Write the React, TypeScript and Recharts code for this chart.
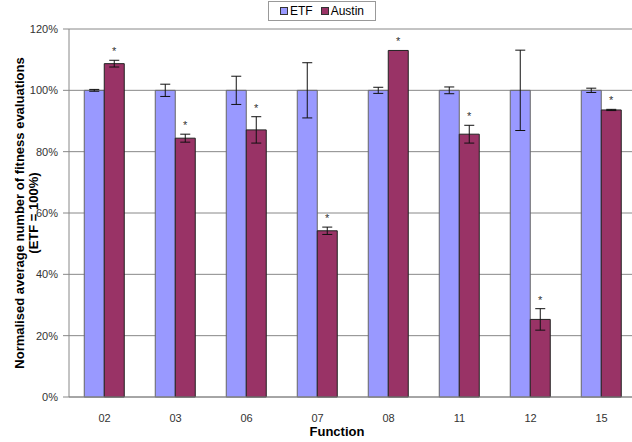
import React from 'react';
import { BarChart, Bar, XAxis, YAxis, CartesianGrid, ErrorBar, LabelList, Legend, Label } from 'recharts';

const categories = ['02', '03', '06', '07', '08', '11', '12', '15'];
const etfValues = [100, 100, 100, 100, 100, 100, 100, 100];
const etfErrors = [0.3, 2, 4.6, 9, 1, 1.1, 13.1, 0.7];
const austinValues = [108.7, 84.4, 87.1, 54.2, 113.0, 85.7, 25.3, 93.6];
const austinErrors = [1.1, 1.3, 4.3, 1.2, 0, 2.9, 3.5, 0.2];
const yTicks = [0, 20, 40, 60, 80, 100, 120];
const edgeTicks = [0, 1, 2, 3, 4, 5, 6, 7, 8];

const data = categories.map((c, i) => ({
  name: c,
  etf: etfValues[i],
  etfErr: etfErrors[i],
  austin: austinValues[i],
  austinErr: austinErrors[i],
}));

const ETF_COLOR = '#9999FF';
const AUSTIN_COLOR = '#993366';
const FONT = '"Liberation Sans", Arial, sans-serif';

const StarLabel = (props: any) => {
  const { x, y, width, height, value, index } = props;
  const v = austinValues[index];
  const pxPerUnit = v ? Number(height) / v : 0;
  const top = Number(y) - Number(value) * pxPerUnit;
  return (
    <text x={Number(x) + Number(width) / 2} y={top - 5} textAnchor="middle" fontSize={11} fill="#333">
      *
    </text>
  );
};

const LegendBox = () => (
  <div
    style={{
      width: 108,
      height: 20,
      border: '1px solid #999',
      background: '#fff',
      boxSizing: 'border-box',
      display: 'flex',
      alignItems: 'center',
      justifyContent: 'center',
      fontSize: 12,
      fontFamily: FONT,
      color: '#000',
    }}
  >
    <span style={{ display: 'inline-block', width: 6, height: 6, background: ETF_COLOR, border: '1px solid #333', marginRight: 2 }} />
    <span style={{ marginRight: 8 }}>ETF</span>
    <span style={{ display: 'inline-block', width: 6, height: 6, background: AUSTIN_COLOR, border: '1px solid #333', marginRight: 2 }} />
    <span>Austin</span>
  </div>
);

const YTitle = (props: any) => {
  const vb = props.viewBox || {};
  const cy = Number(vb.y) + Number(vb.height) / 2;
  return (
    <g>
      <text x={19} y={cy} transform={`rotate(-90 19 ${cy})`} textAnchor="middle" dominantBaseline="central" fontSize={13} fontWeight="bold" fill="#000">
        Normalised average number of fitness evaluations
      </text>
      <text x={33} y={cy} transform={`rotate(-90 33 ${cy})`} textAnchor="middle" dominantBaseline="central" fontSize={13} fontWeight="bold" fill="#000">
        (ETF = 100%)
      </text>
    </g>
  );
};

const XTitle = (props: any) => {
  const vb = props.viewBox || {};
  const cx = Number(vb.x) + Number(vb.width) / 2 - 16;
  return (
    <text x={cx} y={436} textAnchor="middle" fontSize={13} fontWeight="bold" fill="#000">
      Function
    </text>
  );
};

export default function App() {
  return (
    <div style={{ position: 'absolute', left: 0, top: 0, width: 632, height: 442, overflow: 'hidden', background: '#fff', fontFamily: FONT }}>
      <BarChart
        width={640}
        height={442}
        data={data}
        margin={{ top: 29, right: 3, bottom: 0, left: 0 }}
        barCategoryGap="21.5%"
        barGap={0}
      >
        <CartesianGrid vertical={false} stroke="#888" />
        <XAxis
          xAxisId="edges"
          type="number"
          domain={[0, 8]}
          ticks={edgeTicks}
          tick={false}
          tickLine={{ stroke: '#888' }}
          tickSize={5}
          axisLine={false}
          height={0}
        />
        <XAxis
          dataKey="name"
          tickLine={false}
          axisLine={{ stroke: '#888' }}
          tick={{ fontSize: 11, fill: '#333' }}
          tickSize={6}
          tickMargin={11}
          height={45}
        >
          <Label content={XTitle} />
        </XAxis>
        <YAxis
          width={69}
          domain={[0, 120]}
          ticks={yTicks}
          tickFormatter={(v: number) => `${v}%`}
          tickSize={6}
          tickMargin={5}
          axisLine={{ stroke: '#888' }}
          tickLine={{ stroke: '#888' }}
          tick={{ fontSize: 11, fill: '#333' }}
        >
          <Label content={YTitle} />
        </YAxis>
        <Legend
          layout="horizontal"
          verticalAlign="middle"
          align="center"
          wrapperStyle={{ top: 1, left: 268, width: 108, height: 20 }}
          content={LegendBox}
        />
        <Bar dataKey="etf" name="ETF" fill={ETF_COLOR} stroke="#666" strokeWidth={1} isAnimationActive={false}>
          <ErrorBar dataKey="etfErr" width={5} stroke="#111" strokeWidth={1} />
        </Bar>
        <Bar dataKey="austin" name="Austin" fill={AUSTIN_COLOR} stroke="#222" strokeWidth={1} isAnimationActive={false}>
          <ErrorBar dataKey="austinErr" width={5} stroke="#111" strokeWidth={1} />
          <LabelList dataKey="austinErr" content={StarLabel} />
        </Bar>
      </BarChart>
    </div>
  );
}
